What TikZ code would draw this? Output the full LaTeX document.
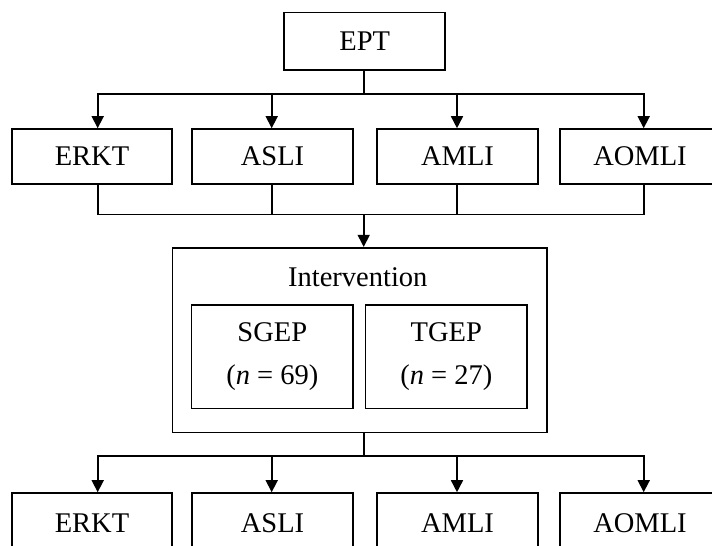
\documentclass[tikz,border=0pt]{standalone}
\usepackage{fontspec}
\setmainfont{Liberation Serif}
\usetikzlibrary{arrows.meta}
\begin{document}
\begin{tikzpicture}[x=1pt,y=-1pt,
  box/.style={draw, line width=1.6pt, inner sep=0pt, minimum width=160.5pt, minimum height=55pt, align=center,
    font=\fontsize{28.5}{43}\selectfont},
  lbl/.style={inner sep=0pt, font=\fontsize{28.5}{34}\selectfont},
  conn/.style={line width=1.6pt},
  arr/.style={conn, -{Triangle[width=12pt,length=12pt]}},
]
\useasboundingbox (0,0) rectangle (712,546);
\clip (0,0) rectangle (712,546);
% top
\node[box, minimum width=161pt, minimum height=57.3pt] (ept) at (364.7,41.3) {EPT};
% row 2
\node[box] (erkt) at (92,156.5) {ERKT};
\node[box] (asli) at (272.5,156.5) {ASLI};
\node[box] (amli) at (457.5,156.5) {AMLI};
\node[box] (aomli) at (640,156.5) {AOMLI};
% intervention
\node[box, minimum width=374.4pt, minimum height=184.6pt] (inter) at (359.5,340) {};
\node[lbl] (intlbl) at (357.8,277) {Intervention};
\node[box, minimum width=161.3pt, minimum height=103.7pt] (sgep) at (272.3,356.8) {SGEP\\(\textit{n} = 69)};
\node[box, minimum width=161.3pt, minimum height=103.7pt] (tgep) at (446.3,356.8) {TGEP\\(\textit{n} = 27)};
% bottom row
\node[box, minimum height=61pt] (erktb) at (92,523.5) {ERKT};
\node[box, minimum height=61pt] (aslib) at (272.5,523.5) {ASLI};
\node[box, minimum height=61pt] (amlib) at (457.5,523.5) {AMLI};
\node[box, minimum height=61pt] (aomlib) at (640,523.5) {AOMLI};
% coordinates of buses
\coordinate (tb) at (363.7,94);
\coordinate (cb) at (363.7,214.3);
\coordinate (bb) at (363.7,456);
% top bus
\draw[conn] (tb |- ept.south) -- (tb);
\draw[arr] (tb) -| ([xshift=5.7pt]erkt.north);
\draw[arr] (tb) -| ([xshift=-0.8pt]asli.north);
\draw[arr] (tb) -| ([xshift=-0.5pt]amli.north);
\draw[arr] (tb) -| ([xshift=3.7pt]aomli.north);
% collector bus
\draw[conn] ([xshift=5.7pt]erkt.south) |- (cb) -| ([xshift=3.7pt]aomli.south);
\draw[conn] ([xshift=-0.8pt]asli.south) -- ([xshift=-0.8pt]asli.south |- cb);
\draw[conn] ([xshift=-0.5pt]amli.south) -- ([xshift=-0.5pt]amli.south |- cb);
\draw[arr] (cb) -- (cb |- inter.north);
% bottom bus
\draw[conn] (bb |- inter.south) -- (bb);
\draw[arr] (bb) -| ([xshift=5.7pt]erktb.north);
\draw[arr] (bb) -| ([xshift=-0.8pt]aslib.north);
\draw[arr] (bb) -| ([xshift=-0.5pt]amlib.north);
\draw[arr] (bb) -| ([xshift=3.7pt]aomlib.north);
\end{tikzpicture}
\end{document}
